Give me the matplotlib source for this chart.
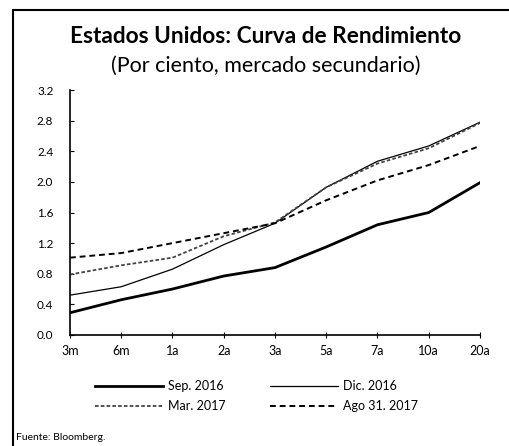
import matplotlib.pyplot as plt
from matplotlib.patches import Rectangle

plt.rcParams['font.family'] = ['Lato', 'DejaVu Sans']

plazos = ['3m', '6m', '1a', '2a', '3a', '5a', '7a', '10a', '20a']
sep_2016 = [0.29, 0.46, 0.60, 0.77, 0.88, 1.15, 1.44, 1.60, 1.99]
dic_2016 = [0.52, 0.63, 0.86, 1.18, 1.46, 1.93, 2.27, 2.47, 2.78]
mar_2017 = [0.79, 0.91, 1.01, 1.29, 1.47, 1.93, 2.24, 2.44, 2.77]
ago_2017 = [1.01, 1.07, 1.20, 1.33, 1.46, 1.76, 2.02, 2.22, 2.47]
yticks = [0.0, 0.4, 0.8, 1.2, 1.6, 2.0, 2.4, 2.8, 3.2]

fig = plt.figure(figsize=(5.09, 4.46), dpi=100)
ax = fig.add_axes([0.1375, 0.249, 0.8055, 0.549])

x = range(len(plazos))
l1, = ax.plot(x, sep_2016, '-', color='black', linewidth=2.0, label='Sep. 2016')
l2, = ax.plot(x, dic_2016, '-', color='black', linewidth=0.9, label='Dic. 2016')
l3, = ax.plot(x, mar_2017, color='#444444', linewidth=1.3, dashes=(2, 1.2), label='Mar. 2017')
l4, = ax.plot(x, ago_2017, color='black', linewidth=1.4, dashes=(3, 2), label='Ago 31. 2017')

ax.set_xlim(0, len(plazos) - 1)
ax.set_ylim(0, 3.2)
ax.set_xticks(list(x))
ax.set_xticklabels(plazos)
ax.set_yticks(yticks)
ax.set_yticklabels([f'{v:.1f}' for v in yticks])
ax.tick_params(axis='x', direction='inout', length=5, labelsize=9, pad=5)
ax.tick_params(axis='y', direction='in', length=3, labelsize=8.5, pad=12)
for s in ['top', 'right']:
    ax.spines[s].set_visible(False)
for s in ['left', 'bottom']:
    ax.spines[s].set_linewidth(1.2)

# fill order so rows read Sep, Dic / Mar, Ago
ax.legend([l1, l3, l2, l4], ['Sep. 2016', 'Mar. 2017', 'Dic. 2016', 'Ago 31. 2017'],
          loc='upper center', bbox_to_anchor=(0.455, -0.14), ncol=2, frameon=False,
          fontsize=9, handlelength=5.4, handletextpad=0.4, columnspacing=3.6,
          labelspacing=0.6)

fig.text(0.522, 0.918, 'Estados Unidos: Curva de Rendimiento', ha='center', va='center',
         fontsize=16.3, fontweight='bold')
fig.text(0.522, 0.853, '(Por ciento, mercado secundario)', ha='center', va='center',
         fontsize=15.5)
fig.text(0.032, 0.02, 'Fuente: Bloomberg.', ha='left', va='center', fontsize=7.5)

fig.patches.append(Rectangle((13 / 509, -0.1), 1.2, 1.1 - 10 / 446 + 0.001,
                             transform=fig.transFigure, fill=False,
                             edgecolor='black', linewidth=1.5))

fig.savefig('out.png', dpi=100)
